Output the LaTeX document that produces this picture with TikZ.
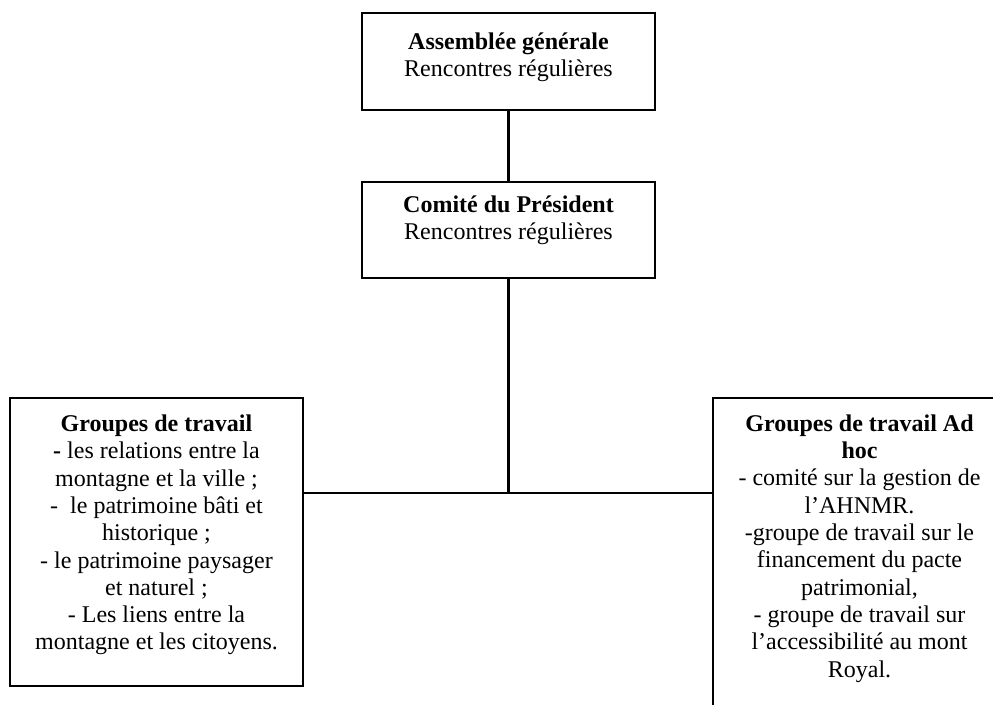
\documentclass[tikz,border=0pt]{standalone}
\usepackage{fontspec}
\setmainfont{Liberation Serif}
\begin{document}
\begin{tikzpicture}[x=1pt,y=-1pt,
  box/.style={draw=black,line width=1.6pt,rectangle,minimum width=293pt,inner sep=0pt},
  txt/.style={align=center,inner sep=0pt,font=\fontsize{24}{27.3}\selectfont},
  link/.style={draw=black,line width=2.6pt}]
\useasboundingbox (0,0) rectangle (993,704);
\clip (0,0) rectangle (993,704);
% boxes
\node[box,minimum height=97pt] (ag) at (508.5,61.5) {};
\node[box,minimum height=96pt] (cp) at (508.5,230) {};
\node[box,minimum height=288pt] (gt) at (156.5,542) {};
\node[box,minimum height=340pt] (gta) at (859.5,568) {};
% texts
\node[txt] (agT) at (508.5,57.5) {\textbf{Assemblée générale}\\Rencontres régulières};
\node[txt] (cpT) at (508.5,220.5) {\textbf{Comité du Président}\\Rencontres régulières};
\node[txt] (gtT) at (156.5,535) {\textbf{Groupes de travail}\\\textbf{-} les relations entre la\\montagne et la ville ;\\-\ \ le patrimoine bâti et\\historique ;\\- le patrimoine paysager\\et naturel ;\\- Les liens entre la\\montagne et les citoyens.};
\node[txt] (gtaT) at (859.5,548.5) {\textbf{Groupes de travail Ad}\\\textbf{hoc}\\- comité sur la gestion de\\l’AHNMR.\\-groupe de travail sur le\\financement du pacte\\patrimonial,\\- groupe de travail sur\\l’accessibilité au mont\\Royal.};
% connectors
\coordinate (j) at (cp.south |- 0,493);
\draw[link] (ag.south) -- (cp.north);
\draw[link] (cp.south) -- (j);
\draw[link] (gt.east |- j) -- (gta.west |- j);
\end{tikzpicture}
\end{document}
